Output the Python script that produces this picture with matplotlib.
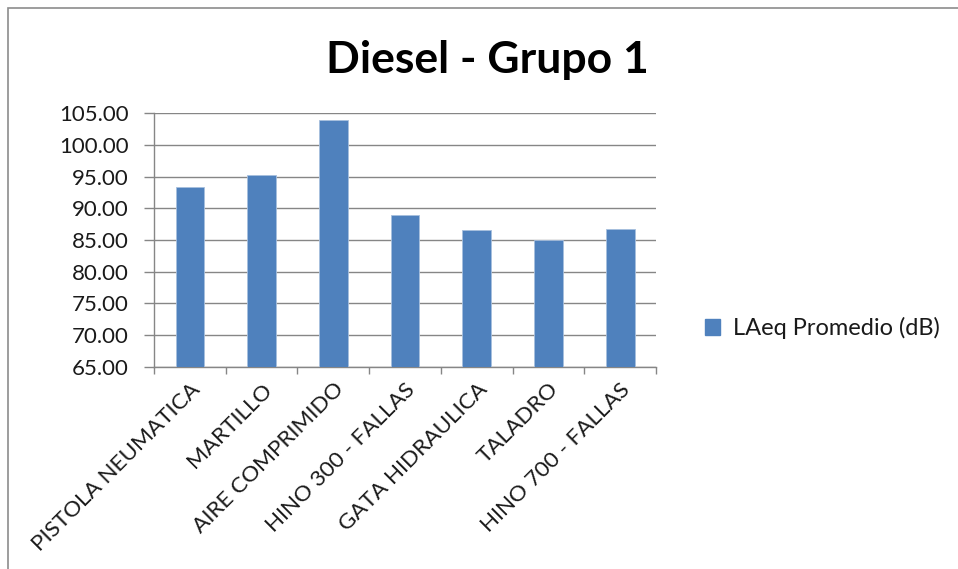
import matplotlib
matplotlib.use("Agg")
import matplotlib.pyplot as plt
from matplotlib.patches import Rectangle, Patch
import numpy as np

plt.rcParams["font.family"] = ["Lato", "DejaVu Sans"]

# Equipment measured and their averaged LAeq level
equipos = [
    "PISTOLA NEUMATICA",
    "MARTILLO",
    "AIRE COMPRIMIDO",
    "HINO 300 - FALLAS",
    "GATA HIDRAULICA",
    "TALADRO",
    "HINO 700 - FALLAS",
]
laeq = [93.3, 95.3, 103.9, 88.9, 86.6, 85.0, 86.8]
y_ticks = [65, 70, 75, 80, 85, 90, 95, 100, 105]

BAR_COLOR = "#4F81BD"
GRID_COLOR = "#868686"

fig = plt.figure(figsize=(9.58, 5.69), dpi=100)
ax = fig.add_axes([0.1608, 0.3556, 0.524, 0.4453])

x = np.arange(len(equipos))
ax.bar(x, laeq, width=0.4, color=BAR_COLOR, edgecolor="#A7BFDE",
       linewidth=0.6, zorder=3)

ax.set_ylim(65, 105)
ax.set_xlim(-0.5, len(equipos) - 0.5)
ax.set_yticks(y_ticks)
ax.set_yticklabels([f"{v:.2f}" for v in y_ticks], fontsize=16, color="#1a1a1a")
ax.yaxis.grid(True, color=GRID_COLOR, linewidth=1.0, zorder=0)

# category labels sit at the centres, tick marks at the boundaries
ax.set_xticks(x)
ax.set_xticklabels(equipos, rotation=45, ha="right", rotation_mode="anchor",
                   fontsize=16.2, color="#1a1a1a")
ax.set_xticks(np.arange(-0.5, len(equipos)), minor=True)
ax.tick_params(axis="x", which="major", length=0, pad=9)
ax.tick_params(axis="x", which="minor", length=5, color=GRID_COLOR, width=1)
ax.tick_params(axis="y", length=7, color=GRID_COLOR, width=1, pad=11)

for side in ["top", "right"]:
    ax.spines[side].set_visible(False)
for side in ["left", "bottom"]:
    ax.spines[side].set_color(GRID_COLOR)
    ax.spines[side].set_linewidth(1.0)

fig.text(0.509, 0.895, "Diesel - Grupo 1", ha="center", va="center",
         fontsize=32, fontweight="bold")

handle = Patch(facecolor=BAR_COLOR, edgecolor=BAR_COLOR)
fig.legend(handles=[handle], labels=["LAeq Promedio (dB)"],
           loc="center left", bbox_to_anchor=(0.7355, 0.4235),
           frameon=False, fontsize=17, handlelength=0.65, handleheight=0.65,
           handletextpad=0.55, borderpad=0, borderaxespad=0,
           labelcolor="#1a1a1a")

# chart area border (runs off the right and bottom edges)
fig.patches.append(Rectangle((8 / 958, -0.05), 1.0, 1 - 8 / 569 + 0.05,
                             transform=fig.transFigure, fill=False,
                             edgecolor="#8C8C8C", linewidth=1.2))

fig.savefig("out.png", dpi=100)
